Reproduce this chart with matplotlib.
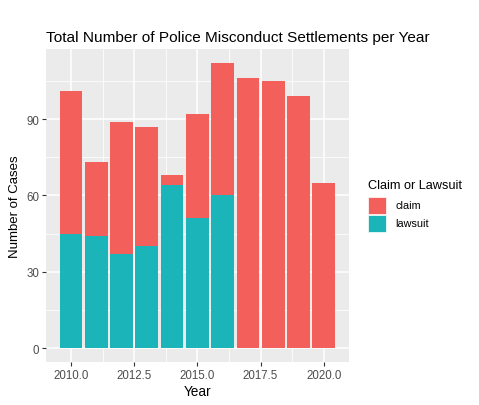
import matplotlib
matplotlib.use("Agg")
import matplotlib.pyplot as plt
from matplotlib.patches import Rectangle
import numpy as np

years = [2010, 2011, 2012, 2013, 2014, 2015, 2016, 2017, 2018, 2019, 2020]
totals = [101, 73, 89, 87, 68, 92, 112, 106, 105, 99, 65]
lawsuit = [45, 44, 37, 40, 64, 51, 60, 0, 0, 0, 0]
claim = [t - l for t, l in zip(totals, lawsuit)]
yticks = [0, 30, 60, 90]
xticks = [2010.0, 2012.5, 2015.0, 2017.5, 2020.0]

CLAIM_C = "#F3605C"
LAW_C = "#1BB5B9"

plt.rcParams['font.family'] = ['Liberation Sans', 'DejaVu Sans']

fig = plt.figure(figsize=(4.79, 4.06), dpi=100)
ax = fig.add_axes([45.7/479, 1-363.3/406, (349-45.7)/479, (363.3-50)/406])
ax.set_facecolor("#EBEBEB")

x = np.array(years, dtype=float)
ax.bar(x, lawsuit, width=0.9, color=LAW_C, zorder=3)
ax.bar(x, claim, width=0.9, bottom=lawsuit, color=CLAIM_C, zorder=3)

ax.set_xlim(2009.0, 2021.0)
ax.set_ylim(-5.6, 117.6)
ax.set_yticks(yticks)
ax.set_yticklabels([str(v) for v in yticks])
ax.set_xticks(xticks)
ax.set_xticklabels([f"{v:.1f}" for v in xticks])
ax.set_yticks([15, 45, 75, 105], minor=True)
ax.set_xticks([2011.25, 2013.75, 2016.25, 2018.75], minor=True)
ax.grid(True, which="major", color="white", linewidth=1.1, zorder=0)
ax.grid(True, which="minor", color="white", linewidth=0.55, zorder=0)
ax.set_axisbelow(True)
for s in ax.spines.values():
    s.set_visible(False)
ax.tick_params(which="major", length=2.7, width=0.8, color="#333333",
               labelsize=8.3, labelcolor="#4D4D4D", pad=2)
ax.tick_params(which="minor", length=0)

ax.set_xlabel("Year", fontsize=9.8, color="black", labelpad=2)
ax.set_ylabel("Number of Cases", fontsize=9.5, color="black", labelpad=4)
fig.text(46/479, 1-42/406, "Total Number of Police Misconduct Settlements per Year",
         fontsize=11.1, color="black", ha="left", va="baseline")

# legend
fig.text(368/479, 1-189/406, "Claim or Lawsuit", fontsize=9.2, ha="left", va="baseline")
for i, (lab, col) in enumerate([("claim", CLAIM_C), ("lawsuit", LAW_C)]):
    y0 = 198 + i * 18
    fig.patches.append(Rectangle((368/479, 1-(y0+17)/406), 18/479, 17/406,
                                 transform=fig.transFigure, facecolor=col,
                                 edgecolor="white", linewidth=0.5))
    fig.text(395/479, 1-(y0+8.5)/406, lab, fontsize=7.8, ha="left", va="center")

fig.savefig("out.png", dpi=100)
